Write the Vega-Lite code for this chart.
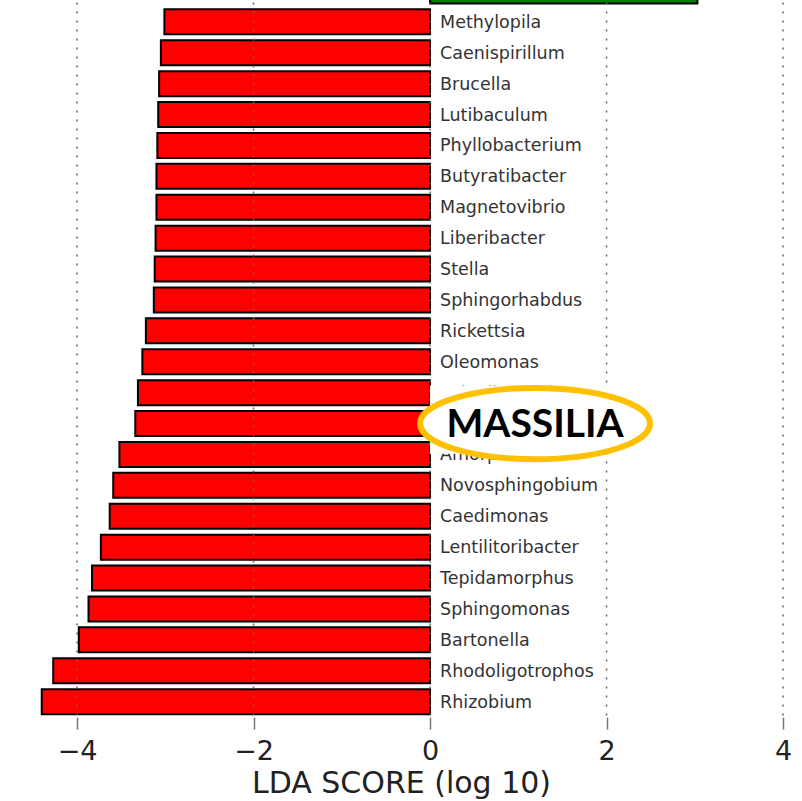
{
  "$schema": "https://vega.github.io/schema/vega-lite/v6.json",
  "width": 802,
  "height": 741.6,
  "autosize": {"type": "none"},
  "padding": {"left": 0, "right": 0, "top": -24.5, "bottom": 83.9},
  "background": "white",
  "config": {"view": {"stroke": null}},
  "datasets": {
    "taxa": [
      {"taxon": "(cut off)", "lda": 3.03, "cls": "pos"},
      {"taxon": "Methylopila", "lda": -3.01, "cls": "neg"},
      {"taxon": "Caenispirillum", "lda": -3.05, "cls": "neg"},
      {"taxon": "Brucella", "lda": -3.07, "cls": "neg"},
      {"taxon": "Lutibaculum", "lda": -3.08, "cls": "neg"},
      {"taxon": "Phyllobacterium", "lda": -3.09, "cls": "neg"},
      {"taxon": "Butyratibacter", "lda": -3.10, "cls": "neg"},
      {"taxon": "Magnetovibrio", "lda": -3.10, "cls": "neg"},
      {"taxon": "Liberibacter", "lda": -3.11, "cls": "neg"},
      {"taxon": "Stella", "lda": -3.12, "cls": "neg"},
      {"taxon": "Sphingorhabdus", "lda": -3.13, "cls": "neg"},
      {"taxon": "Rickettsia", "lda": -3.22, "cls": "neg"},
      {"taxon": "Oleomonas", "lda": -3.26, "cls": "neg"},
      {"taxon": "Pelagibacterium", "lda": -3.31, "cls": "neg"},
      {"taxon": "Massilia", "lda": -3.34, "cls": "neg"},
      {"taxon": "Amorphus", "lda": -3.52, "cls": "neg"},
      {"taxon": "Novosphingobium", "lda": -3.59, "cls": "neg"},
      {"taxon": "Caedimonas", "lda": -3.63, "cls": "neg"},
      {"taxon": "Lentilitoribacter", "lda": -3.73, "cls": "neg"},
      {"taxon": "Tepidamorphus", "lda": -3.83, "cls": "neg"},
      {"taxon": "Sphingomonas", "lda": -3.87, "cls": "neg"},
      {"taxon": "Bartonella", "lda": -3.98, "cls": "neg"},
      {"taxon": "Rhodoligotrophos", "lda": -4.27, "cls": "neg"},
      {"taxon": "Rhizobium", "lda": -4.40, "cls": "neg"}
    ],
    "grid": [{"g": -4}, {"g": -2}, {"g": 0}, {"g": 2}, {"g": 4}],
    "note": [{"taxon": "Massilia", "x": 1.19, "bx": 1.245, "text": "MASSILIA"}]
  },
  "layer": [
    {
      "data": {"name": "taxa"},
      "mark": {"type": "bar", "stroke": "black", "strokeWidth": 2},
      "encoding": {
        "y": {
          "field": "taxon",
          "type": "nominal",
          "axis": null,
          "scale": {
            "domain": ["(cut off)", "Methylopila", "Caenispirillum", "Brucella", "Lutibaculum", "Phyllobacterium", "Butyratibacter", "Magnetovibrio", "Liberibacter", "Stella", "Sphingorhabdus", "Rickettsia", "Oleomonas", "Pelagibacterium", "Massilia", "Amorphus", "Novosphingobium", "Caedimonas", "Lentilitoribacter", "Tepidamorphus", "Sphingomonas", "Bartonella", "Rhodoligotrophos", "Rhizobium"],
            "paddingInner": 0.19,
            "paddingOuter": 0.095
          }
        },
        "x": {
          "field": "lda",
          "type": "quantitative",
          "scale": {"domain": [-4.873, 4.215], "nice": false, "zero": false},
          "axis": {
            "values": [-4, -2, 0, 2, 4],
            "format": "d",
            "grid": false,
            "domain": false,
            "ticks": true,
            "tickSize": 12,
            "tickWidth": 1.5,
            "tickColor": "#777",
            "labelFont": "DejaVu Sans",
            "labelFontSize": 27,
            "labelColor": "#222",
            "labelPadding": 9,
            "title": "LDA SCORE (log 10)",
            "titleFont": "DejaVu Sans",
            "titleFontSize": 30,
            "titleFontWeight": "normal",
            "titleColor": "#222",
            "titlePadding": 4
          }
        },
        "x2": {"datum": 0},
        "color": {
          "field": "cls",
          "type": "nominal",
          "scale": {"domain": ["pos", "neg"], "range": ["#008000", "#ff0000"]},
          "legend": null
        }
      }
    },
    {
      "data": {"name": "grid"},
      "mark": {"type": "rule", "strokeDash": [2, 7], "color": "#666", "strokeWidth": 1.5},
      "encoding": {"x": {"field": "g", "type": "quantitative"}}
    },
    {
      "data": {"name": "taxa"},
      "transform": [{"filter": "datum.lda < 0"}],
      "mark": {"type": "text", "align": "left", "baseline": "middle", "dx": 10, "dy": 1, "font": "DejaVu Sans", "fontSize": 17.5, "color": "#333"},
      "encoding": {
        "y": {"field": "taxon", "type": "nominal"},
        "x": {"datum": 0},
        "text": {"field": "taxon"}
      }
    },
    {
      "data": {"name": "note"},
      "mark": {"type": "point", "shape": "M -1 -0.31 L 1 -0.31 L 1 0.31 L -1 0.31 Z", "size": 48400, "filled": true, "fill": "white", "strokeWidth": 0, "opacity": 1, "yOffset": -4},
      "encoding": {
        "y": {"field": "taxon", "type": "nominal"},
        "x": {"field": "bx", "type": "quantitative"}
      }
    },
    {
      "data": {"name": "note"},
      "mark": {"type": "point", "shape": "M -1 0 A 1 0.31 0 1 1 1 0 A 1 0.31 0 1 1 -1 0 Z", "size": 52900, "filled": false, "fill": "white", "stroke": "#FFC000", "strokeWidth": 6, "opacity": 1, "yOffset": 0},
      "encoding": {
        "y": {"field": "taxon", "type": "nominal"},
        "x": {"field": "x", "type": "quantitative"}
      }
    },
    {
      "data": {"name": "note"},
      "mark": {"type": "text", "align": "center", "baseline": "middle", "font": "Lato", "fontWeight": "bold", "fontSize": 39, "color": "black", "yOffset": 1},
      "encoding": {
        "y": {"field": "taxon", "type": "nominal"},
        "x": {"field": "x", "type": "quantitative"},
        "text": {"field": "text"}
      }
    }
  ]
}
